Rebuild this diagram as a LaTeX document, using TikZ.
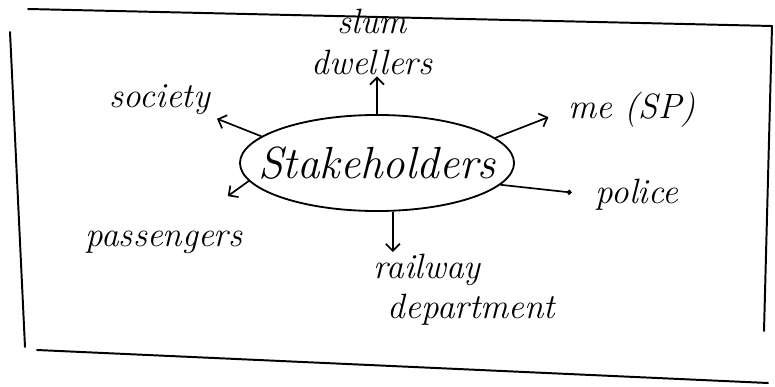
\documentclass[tikz,border=0pt]{standalone}
\usepackage{tikz}
\usetikzlibrary{arrows.meta,positioning,shapes.geometric}

\begin{document}
\begin{tikzpicture}[
    x=0.025cm, y=-0.025cm,
    word/.style={font=\fontsize{25}{29}\selectfont\itshape, inner sep=1pt},
    hub/.style={ellipse, draw, line width=1.3pt, minimum width=6.85cm, minimum height=2.4cm, inner xsep=-40pt, inner ysep=0pt, font=\fontsize{32}{36}\selectfont\itshape},
    arrow/.style={-{Straight Barb[length=5pt,width=10pt]}, line width=1.2pt},
    dotarrow/.style={-{Circle[length=3.5pt]}, line width=1.2pt},
    frame/.style={line width=1.4pt, line cap=round}
]
\useasboundingbox (0,0) rectangle (775,387);

% Outer frame
\draw[frame] (28,9) -- (772,26);
\draw[frame] (10,32) -- (25,347);
\draw[frame] (772,26) -- (764,331);
\draw[frame] (37,350) -- (768,383);

% Centre
\node[hub] (hub) at (377,163) {Stakeholders};

% Stakeholder groups
\node[word, align=center] (dwellers) at (372,42) {slum\\dwellers};
\node[word] (society) at (160,100) {society};
\node[word] (me) at (632,110) {me (SP)};
\node[word] (police) at (637,195) {police};
\node[word] (passengers) at (164,242) {passengers};
\node[word, align=left, anchor=north west] (rail) at (372,252) {railway\\\hspace{0.4em}department};

% Arrows out of the centre
\draw[arrow] (hub.north) -- (hub.north |- dwellers.south);
\draw[arrow, shorten >=4pt] (hub.167) -- (society.south east);
\draw[arrow, shorten >=14pt] (hub.12) -- (me.west);
\draw[dotarrow, shorten >=16pt] (hub.-10) -- (police.west);
\draw[arrow, shorten >=40pt] (hub.188) -- (passengers);
\draw[arrow] (hub.-72) -- (hub.-72 |- rail.north);

\end{tikzpicture}
\end{document}
